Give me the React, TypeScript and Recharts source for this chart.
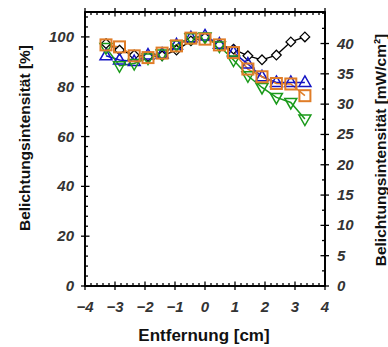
import React from 'react';
import { LineChart, Line, XAxis, YAxis } from 'recharts';

// distance from centre [cm]
const positions = [-3.3, -2.85, -2.36, -1.9, -1.43, -0.95, -0.47, 0, 0.48, 0.95, 1.43, 1.9, 2.38, 2.86, 3.33];

// exposure intensity [%]
const seriesBlack = [97.3, 94.7, 92.7, 92.1, 92.4, 94.7, 98.4, 99.7, 96.8, 95.1, 92.4, 90.8, 92.7, 98.0, 100.0];
const seriesBlue = [92.4, 90.7, 90.1, 92.7, 93.1, 96.8, 99.7, 100.4, 97.1, 93.7, 89.1, 84.0, 81.7, 81.7, 81.7];
const seriesOrange = [96.8, 96.0, 92.4, 91.7, 93.5, 96.4, 99.5, 99.1, 96.8, 93.7, 87.1, 84.0, 81.3, 81.1, 76.4];
const seriesGreen = [95.7, 88.4, 89.3, 91.5, 93.1, 96.8, 99.7, 100.0, 96.4, 90.7, 84.4, 79.7, 75.7, 73.7, 67.0];

const xMajor = [-4, -3, -2, -1, 0, 1, 2, 3, 4];
const yLeftMajor = [0, 20, 40, 60, 80, 100];
const yRightMajor = [0, 5, 10, 15, 20, 25, 30, 35, 40];

const data = positions.map((x, i) => ({
    x,
    black: seriesBlack[i],
    blue: seriesBlue[i],
    orange: seriesOrange[i],
    green: seriesGreen[i],
}));

const round = (v: number) => Math.round(v * 100) / 100;
const steps = (from: number, to: number, step: number) => {
    const out: number[] = [];
    for (let v = from; v <= to + 1e-9; v += step) out.push(round(v));
    return out;
};

const xTicks = steps(-4, 4, 0.2);
const yLeftTicks = steps(0, 108, 4);
const yRightTicks = steps(0, 45, 2.5);

const X_DOMAIN = [-4, 4];
const R_DOMAIN = [0, 45.2];

// chart geometry
const W = 388, H = 347;
const M = { top: 11, right: 28, bottom: 31, left: 40 };
const LEFT_W = 45, RIGHT_W = 35, BOTTOM_H = 30, TOP_H = 1;
const PL = M.left + LEFT_W, PR = W - M.right - RIGHT_W, PT = M.top + TOP_H, PB = H - M.bottom - BOTTOM_H;
const sx = (v: number) => PL + ((v - X_DOMAIN[0]) / (X_DOMAIN[1] - X_DOMAIN[0])) * (PR - PL);
const sr = (v: number) => PB - ((v - R_DOMAIN[0]) / (R_DOMAIN[1] - R_DOMAIN[0])) * (PB - PT);

const FONT = '"Liberation Sans", Arial, Helvetica, sans-serif';
const LABEL = { fontFamily: FONT, fontSize: 15, fontWeight: 700, fontStyle: 'italic', fill: '#333' };
const fmt = (v: number) => (v < 0 ? '\u2212' + Math.abs(v) : String(v));
const isMajor = (v: number, majors: number[]) => majors.some(m => Math.abs(m - v) < 1e-6);

const bottomTick = (props: any) => {
    const { x, y, payload, index } = props;
    const major = isMajor(payload.value, xMajor);
    return (
        <g key={index}>
            <line x1={x} x2={x} y1={y - (major ? 4.5 : 3)} y2={y + (major ? 4 : 0)} stroke="#000" strokeWidth={1.3} />
            {major && <text x={x} y={y + 26} textAnchor="middle" {...LABEL}>{fmt(payload.value)}</text>}
        </g>
    );
};
const leftTick = (props: any) => {
    const { x, y, payload, index } = props;
    const major = isMajor(payload.value, yLeftMajor);
    return (
        <g key={index}>
            <line x1={x + (major ? 4.5 : 3)} x2={x - (major ? 4 : 0)} y1={y} y2={y} stroke="#000" strokeWidth={1.3} />
            {major && <text x={x - 11} y={y + 5} textAnchor="end" {...LABEL}>{fmt(payload.value)}</text>}
        </g>
    );
};
const rightTick = (props: any) => {
    const { x, y, payload, index } = props;
    const major = isMajor(payload.value, yRightMajor);
    return (
        <g key={index}>
            {major && <text x={x + 12} y={y + 5} textAnchor="start" {...LABEL}>{fmt(payload.value)}</text>}
        </g>
    );
};

const Diamond = (props: any) => {
    const { cx, cy } = props;
    const r = 4.8;
    return <polygon points={`${cx},${cy - r} ${cx + r},${cy} ${cx},${cy + r} ${cx - r},${cy}`} fill="#fff" stroke="#000" strokeWidth={1.3} />;
};
const TriUp = (props: any) => {
    const { cx, cy } = props;
    return <polygon points={`${cx},${cy - 6.5} ${cx + 6},${cy + 4} ${cx - 6},${cy + 4}`} fill="none" stroke="#1414c4" strokeWidth={1.5} />;
};
const Square = (props: any) => {
    const { cx, cy } = props;
    return <rect x={cx - 5.5} y={cy - 5.5} width={11} height={11} fill="none" stroke="#e07d28" strokeWidth={2} />;
};
const TriDown = (props: any) => {
    const { cx, cy } = props;
    return <polygon points={`${cx - 6},${cy - 4} ${cx + 6},${cy - 4} ${cx},${cy + 6.5}`} fill="none" stroke="#1a9a1a" strokeWidth={1.5} />;
};

export default function App() {
    return (
        <div style={{ position: 'absolute', left: 0, top: 0, width: W, height: H, background: '#fff' }}>
            <LineChart width={W} height={H} data={data} margin={M}>
                <XAxis xAxisId="bottom" dataKey="x" type="number" domain={X_DOMAIN} ticks={xTicks} interval={0} allowDataOverflow
                    tickLine={false} tickSize={0} tickMargin={0} height={BOTTOM_H} axisLine={{ stroke: '#000', strokeWidth: 1.6 }} tick={bottomTick} />
                <XAxis xAxisId="top" orientation="top" dataKey="x" type="number" domain={X_DOMAIN} allowDataOverflow
                    tickLine={false} tick={false} height={TOP_H} axisLine={{ stroke: '#000', strokeWidth: 1.8 }} />
                <YAxis yAxisId="left" type="number" domain={[0, 110]} ticks={yLeftTicks} interval={0} allowDataOverflow
                    tickLine={false} tickSize={0} tickMargin={0} width={LEFT_W} axisLine={{ stroke: '#000', strokeWidth: 1.6 }} tick={leftTick} />
                <YAxis yAxisId="right" orientation="right" type="number" domain={R_DOMAIN} ticks={yRightTicks} interval={0} allowDataOverflow
                    tickLine={false} tickSize={0} tickMargin={0} width={RIGHT_W} axisLine={{ stroke: '#000', strokeWidth: 1.8 }} tick={rightTick} />
                <Line xAxisId="bottom" yAxisId="left" dataKey="black" stroke="#000" strokeWidth={1.3} dot={(p: any) => <Diamond key={p.key} {...p} />} isAnimationActive={false} />
                <Line xAxisId="bottom" yAxisId="left" dataKey="blue" stroke="#1414c4" strokeWidth={1.5} dot={(p: any) => <TriUp key={p.key} {...p} />} isAnimationActive={false} />
                <Line xAxisId="bottom" yAxisId="left" dataKey="green" stroke="#1a9a1a" strokeWidth={1.5} dot={(p: any) => <TriDown key={p.key} {...p} />} isAnimationActive={false} />
                <Line xAxisId="bottom" yAxisId="left" dataKey="orange" stroke="#e07d28" strokeWidth={1.5} dot={(p: any) => <Square key={p.key} {...p} />} isAnimationActive={false} />
            </LineChart>
            <svg width={W} height={H} style={{ position: 'absolute', left: 0, top: 0, pointerEvents: 'none' }}>
                {/* plot frame with top and right ticks */}
                <rect x={PL} y={PT} width={PR - PL} height={PB - PT} fill="none" stroke="#000" strokeWidth={1.8} />
                {xTicks.map((v, i) => {
                    const major = isMajor(v, xMajor);
                    return <line key={'t' + i} x1={sx(v)} x2={sx(v)} y1={PT + (major ? 4.5 : 3)} y2={PT - (major ? 4 : 0)} stroke="#000" strokeWidth={1.3} />;
                })}
                {yRightTicks.map((v, i) => {
                    const major = isMajor(v, yRightMajor);
                    return <line key={'r' + i} x1={PR - (major ? 4.5 : 3)} x2={PR + (major ? 4 : 0)} y1={sr(v)} y2={sr(v)} stroke="#000" strokeWidth={1.3} />;
                })}
                <text x={0} y={0} transform="translate(30,138) rotate(-90)" textAnchor="middle" fontFamily={FONT} fontSize={15.5} fontWeight={700} fill="#111">
                    Belichtungsintensität [%]
                </text>
                <text x={0} y={0} transform="translate(386,150) rotate(-90)" textAnchor="middle" fontFamily={FONT} fontSize={15.5} fontWeight={700} fill="#111">
                    Belichtungsintensität [mW/cm²]
                </text>
                <text x={204} y={341} textAnchor="middle" fontFamily={FONT} fontSize={17} fontWeight={700} fill="#111">
                    Entfernung [cm]
                </text>
            </svg>
        </div>
    );
}
